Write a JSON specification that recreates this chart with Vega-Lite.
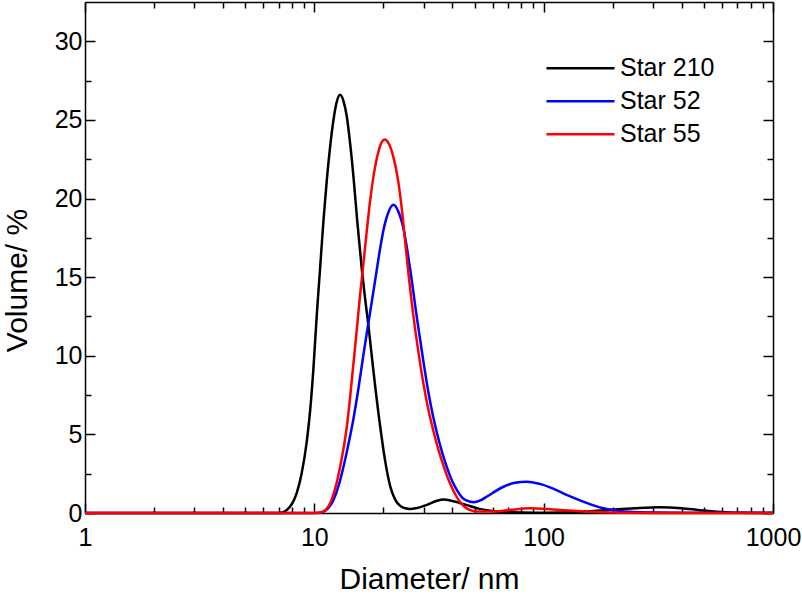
{
  "$schema": "https://vega.github.io/schema/vega-lite/v6.json",
  "width": 688,
  "height": 511,
  "autosize": "none",
  "padding": {"left": 85, "top": 2, "right": 29, "bottom": 83},
  "config": {
    "font": "Liberation Sans",
    "view": {"stroke": null},
    "axis": {
      "grid": false,
      "domainColor": "black",
      "tickColor": "black",
      "labelColor": "black",
      "titleColor": "black",
      "domainWidth": 1.5,
      "tickWidth": 1.5,
      "labelFontSize": 25,
      "titleFontSize": 30,
      "titleFontWeight": "normal"
    }
  },
  "data": {
    "values": [
      {"d": 1, "v": 0, "s": "Star 210"},
      {"d": 5, "v": 0, "s": "Star 210"},
      {"d": 7.0, "v": 0, "s": "Star 210"},
      {"d": 7.3, "v": 0.05, "s": "Star 210"},
      {"d": 7.59, "v": 0.2, "s": "Star 210"},
      {"d": 8.0, "v": 0.6, "s": "Star 210"},
      {"d": 8.39, "v": 1.3, "s": "Star 210"},
      {"d": 8.8, "v": 2.5, "s": "Star 210"},
      {"d": 9.28, "v": 4.6, "s": "Star 210"},
      {"d": 9.6, "v": 6.6, "s": "Star 210"},
      {"d": 9.91, "v": 9.2, "s": "Star 210"},
      {"d": 10.26, "v": 12.7, "s": "Star 210"},
      {"d": 10.6, "v": 15.6, "s": "Star 210"},
      {"d": 10.96, "v": 18.6, "s": "Star 210"},
      {"d": 11.34, "v": 21.2, "s": "Star 210"},
      {"d": 11.72, "v": 23.3, "s": "Star 210"},
      {"d": 12.12, "v": 25.0, "s": "Star 210"},
      {"d": 12.5, "v": 26.1, "s": "Star 210"},
      {"d": 12.96, "v": 26.6, "s": "Star 210"},
      {"d": 13.4, "v": 26.2, "s": "Star 210"},
      {"d": 13.86, "v": 25.2, "s": "Star 210"},
      {"d": 14.3, "v": 23.6, "s": "Star 210"},
      {"d": 14.81, "v": 21.4, "s": "Star 210"},
      {"d": 15.4, "v": 18.5, "s": "Star 210"},
      {"d": 16.11, "v": 15.5, "s": "Star 210"},
      {"d": 16.66, "v": 13.6, "s": "Star 210"},
      {"d": 17.22, "v": 11.9, "s": "Star 210"},
      {"d": 18.11, "v": 9.0, "s": "Star 210"},
      {"d": 19.37, "v": 5.5, "s": "Star 210"},
      {"d": 20.37, "v": 3.3, "s": "Star 210"},
      {"d": 21.42, "v": 1.7, "s": "Star 210"},
      {"d": 22.52, "v": 0.85, "s": "Star 210"},
      {"d": 23.67, "v": 0.45, "s": "Star 210"},
      {"d": 24.9, "v": 0.3, "s": "Star 210"},
      {"d": 26.18, "v": 0.26, "s": "Star 210"},
      {"d": 28.0, "v": 0.32, "s": "Star 210"},
      {"d": 31.0, "v": 0.52, "s": "Star 210"},
      {"d": 34.0, "v": 0.76, "s": "Star 210"},
      {"d": 36.6, "v": 0.86, "s": "Star 210"},
      {"d": 40.0, "v": 0.76, "s": "Star 210"},
      {"d": 46.3, "v": 0.5, "s": "Star 210"},
      {"d": 52, "v": 0.28, "s": "Star 210"},
      {"d": 58.5, "v": 0.15, "s": "Star 210"},
      {"d": 71.5, "v": 0.04, "s": "Star 210"},
      {"d": 100, "v": 0.02, "s": "Star 210"},
      {"d": 140, "v": 0.06, "s": "Star 210"},
      {"d": 190, "v": 0.19, "s": "Star 210"},
      {"d": 250, "v": 0.3, "s": "Star 210"},
      {"d": 320, "v": 0.36, "s": "Star 210"},
      {"d": 400, "v": 0.3, "s": "Star 210"},
      {"d": 480, "v": 0.18, "s": "Star 210"},
      {"d": 590, "v": 0.07, "s": "Star 210"},
      {"d": 700, "v": 0.02, "s": "Star 210"},
      {"d": 1000, "v": 0, "s": "Star 210"},

      {"d": 1, "v": 0, "s": "Star 52"},
      {"d": 10.3, "v": 0, "s": "Star 52"},
      {"d": 10.96, "v": 0.08, "s": "Star 52"},
      {"d": 11.5, "v": 0.3, "s": "Star 52"},
      {"d": 12.12, "v": 0.83, "s": "Star 52"},
      {"d": 12.8, "v": 1.8, "s": "Star 52"},
      {"d": 13.4, "v": 2.94, "s": "Star 52"},
      {"d": 14.0, "v": 4.2, "s": "Star 52"},
      {"d": 14.81, "v": 6.0, "s": "Star 52"},
      {"d": 15.6, "v": 8.0, "s": "Star 52"},
      {"d": 16.38, "v": 10.1, "s": "Star 52"},
      {"d": 17.52, "v": 12.8, "s": "Star 52"},
      {"d": 18.42, "v": 14.8, "s": "Star 52"},
      {"d": 19.2, "v": 16.5, "s": "Star 52"},
      {"d": 20.02, "v": 18.0, "s": "Star 52"},
      {"d": 21.0, "v": 19.1, "s": "Star 52"},
      {"d": 22.14, "v": 19.6, "s": "Star 52"},
      {"d": 23.2, "v": 19.2, "s": "Star 52"},
      {"d": 24.47, "v": 18.1, "s": "Star 52"},
      {"d": 26.18, "v": 15.5, "s": "Star 52"},
      {"d": 28.01, "v": 12.4, "s": "Star 52"},
      {"d": 29.92, "v": 9.6, "s": "Star 52"},
      {"d": 31.5, "v": 7.6, "s": "Star 52"},
      {"d": 33.0, "v": 6.1, "s": "Star 52"},
      {"d": 34.23, "v": 5.1, "s": "Star 52"},
      {"d": 36.0, "v": 3.9, "s": "Star 52"},
      {"d": 37.86, "v": 2.9, "s": "Star 52"},
      {"d": 40.0, "v": 2.0, "s": "Star 52"},
      {"d": 41.85, "v": 1.45, "s": "Star 52"},
      {"d": 44.0, "v": 1.0, "s": "Star 52"},
      {"d": 46.29, "v": 0.78, "s": "Star 52"},
      {"d": 49.45, "v": 0.68, "s": "Star 52"},
      {"d": 53.0, "v": 0.8, "s": "Star 52"},
      {"d": 56.6, "v": 1.05, "s": "Star 52"},
      {"d": 66.8, "v": 1.67, "s": "Star 52"},
      {"d": 75.0, "v": 1.92, "s": "Star 52"},
      {"d": 84.6, "v": 1.99, "s": "Star 52"},
      {"d": 96.0, "v": 1.85, "s": "Star 52"},
      {"d": 110, "v": 1.55, "s": "Star 52"},
      {"d": 126, "v": 1.15, "s": "Star 52"},
      {"d": 144, "v": 0.8, "s": "Star 52"},
      {"d": 160, "v": 0.55, "s": "Star 52"},
      {"d": 182, "v": 0.3, "s": "Star 52"},
      {"d": 216, "v": 0.12, "s": "Star 52"},
      {"d": 260, "v": 0.05, "s": "Star 52"},
      {"d": 400, "v": 0.02, "s": "Star 52"},
      {"d": 1000, "v": 0.02, "s": "Star 52"},

      {"d": 1, "v": 0, "s": "Star 55"},
      {"d": 9.8, "v": 0, "s": "Star 55"},
      {"d": 10.6, "v": 0.03, "s": "Star 55"},
      {"d": 11.2, "v": 0.2, "s": "Star 55"},
      {"d": 11.72, "v": 0.62, "s": "Star 55"},
      {"d": 12.3, "v": 1.5, "s": "Star 55"},
      {"d": 12.96, "v": 2.94, "s": "Star 55"},
      {"d": 13.86, "v": 5.5, "s": "Star 55"},
      {"d": 14.81, "v": 9.5, "s": "Star 55"},
      {"d": 15.3, "v": 11.6, "s": "Star 55"},
      {"d": 15.84, "v": 13.9, "s": "Star 55"},
      {"d": 16.38, "v": 15.9, "s": "Star 55"},
      {"d": 16.95, "v": 18.0, "s": "Star 55"},
      {"d": 17.52, "v": 19.9, "s": "Star 55"},
      {"d": 18.2, "v": 21.6, "s": "Star 55"},
      {"d": 19.05, "v": 23.0, "s": "Star 55"},
      {"d": 19.7, "v": 23.6, "s": "Star 55"},
      {"d": 20.3, "v": 23.75, "s": "Star 55"},
      {"d": 21.0, "v": 23.55, "s": "Star 55"},
      {"d": 22.14, "v": 22.6, "s": "Star 55"},
      {"d": 23.1, "v": 21.3, "s": "Star 55"},
      {"d": 24.09, "v": 19.3, "s": "Star 55"},
      {"d": 25.0, "v": 17.0, "s": "Star 55"},
      {"d": 25.74, "v": 15.2, "s": "Star 55"},
      {"d": 27.0, "v": 12.6, "s": "Star 55"},
      {"d": 28.46, "v": 10.2, "s": "Star 55"},
      {"d": 29.92, "v": 8.2, "s": "Star 55"},
      {"d": 31.5, "v": 6.5, "s": "Star 55"},
      {"d": 33.08, "v": 5.2, "s": "Star 55"},
      {"d": 34.8, "v": 4.0, "s": "Star 55"},
      {"d": 36.59, "v": 3.0, "s": "Star 55"},
      {"d": 38.5, "v": 2.1, "s": "Star 55"},
      {"d": 40.46, "v": 1.4, "s": "Star 55"},
      {"d": 42.5, "v": 0.85, "s": "Star 55"},
      {"d": 44.74, "v": 0.45, "s": "Star 55"},
      {"d": 47.5, "v": 0.2, "s": "Star 55"},
      {"d": 51.2, "v": 0.1, "s": "Star 55"},
      {"d": 60, "v": 0.1, "s": "Star 55"},
      {"d": 72, "v": 0.2, "s": "Star 55"},
      {"d": 87, "v": 0.3, "s": "Star 55"},
      {"d": 110, "v": 0.22, "s": "Star 55"},
      {"d": 140, "v": 0.12, "s": "Star 55"},
      {"d": 180, "v": 0.04, "s": "Star 55"},
      {"d": 220, "v": 0.01, "s": "Star 55"},
      {"d": 300, "v": 0, "s": "Star 55"},
      {"d": 1000, "v": 0, "s": "Star 55"}
    ]
  },
  "layer": [
    {
      "mark": {"type": "line", "opacity": 0},
      "encoding": {
        "x": {"field": "d", "type": "quantitative",
          "scale": {"type": "log", "domain": [1, 1000], "nice": false},
          "axis": {"orient": "top", "values": [1, 10, 100, 1000], "labels": false, "title": null, "tickSize": -10}},
        "y": {"field": "v", "type": "quantitative",
          "scale": {"domain": [0, 32.5], "nice": false, "zero": false},
          "axis": {"orient": "right", "values": [0, 5, 10, 15, 20, 25, 30], "labels": false, "title": null, "tickSize": -10}}
      }
    },
    {
      "mark": {"type": "line", "opacity": 0},
      "encoding": {
        "x": {"field": "d", "type": "quantitative",
          "scale": {"type": "log", "domain": [1, 1000], "nice": false},
          "axis": {"orient": "top", "values": [2, 3, 4, 5, 6, 7, 8, 9, 20, 30, 40, 50, 60, 70, 80, 90, 200, 300, 400, 500, 600, 700, 800, 900], "labels": false, "title": null, "tickSize": -6, "domain": false}},
        "y": {"field": "v", "type": "quantitative",
          "scale": {"domain": [0, 32.5], "nice": false, "zero": false},
          "axis": {"orient": "right", "values": [2.5, 7.5, 12.5, 17.5, 22.5, 27.5], "labels": false, "title": null, "tickSize": -6, "domain": false}}
      }
    },
    {
      "mark": {"type": "line", "opacity": 0},
      "encoding": {
        "x": {"field": "d", "type": "quantitative",
          "scale": {"type": "log", "domain": [1, 1000], "nice": false},
          "axis": {"orient": "bottom", "values": [2, 3, 4, 5, 6, 7, 8, 9, 20, 30, 40, 50, 60, 70, 80, 90, 200, 300, 400, 500, 600, 700, 800, 900], "labels": false, "title": null, "tickSize": -6, "domain": false}},
        "y": {"field": "v", "type": "quantitative",
          "scale": {"domain": [0, 32.5], "nice": false, "zero": false},
          "axis": {"orient": "left", "values": [2.5, 7.5, 12.5, 17.5, 22.5, 27.5], "labels": false, "title": null, "tickSize": -6, "domain": false}}
      }
    },
    {
      "mark": {"type": "line", "strokeWidth": 2.5, "interpolate": "monotone"},
      "encoding": {
        "x": {"field": "d", "type": "quantitative",
          "scale": {"type": "log", "domain": [1, 1000], "nice": false},
          "axis": {"orient": "bottom", "values": [1, 10, 100, 1000], "format": "d", "title": "Diameter/ nm",
            "tickSize": -10, "labelPadding": 22, "labelFlush": false, "titleX": 344, "titleY": 75, "titleBaseline": "alphabetic", "titleAnchor": null}},
        "y": {"field": "v", "type": "quantitative",
          "scale": {"domain": [0, 32.5], "nice": false, "zero": false},
          "axis": {"orient": "left", "values": [0, 5, 10, 15, 20, 25, 30], "title": "Volume/ %",
            "tickSize": -10, "labelPadding": 13, "labelFlush": false, "titleX": -59, "titleY": 278, "titleBaseline": "alphabetic", "titleAngle": -90}},
        "color": {"field": "s", "type": "nominal",
          "scale": {"domain": ["Star 210", "Star 52", "Star 55"], "range": ["#000000", "#0000ff", "#ff0000"]},
          "legend": {"title": null, "orient": "none", "legendX": 460, "legendY": 50, "padding": 0,
            "symbolType": "stroke", "symbolSize": 4624, "symbolStrokeWidth": 2.5, "clipHeight": 32.5,
            "labelFontSize": 25, "labelColor": "black", "labelOffset": 4, "rowPadding": 0}}
      }
    }
  ],
  "resolve": {"axis": {"x": "independent", "y": "independent"}}
}
